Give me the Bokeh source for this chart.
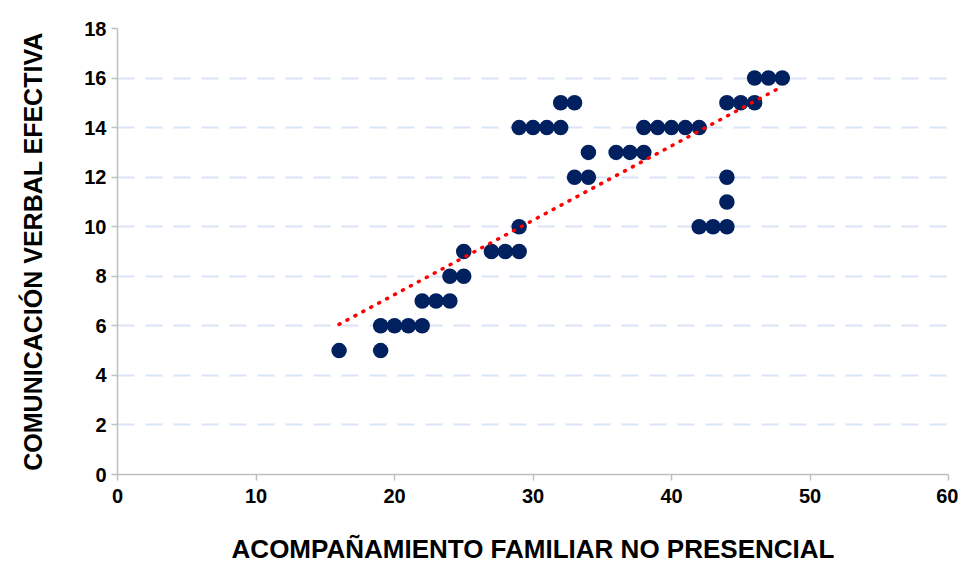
import numpy as np
from bokeh.plotting import figure
from bokeh.models import Range1d, FixedTicker
from bokeh.embed import file_html
from bokeh.resources import INLINE

acompanamiento = [16, 19, 19, 20, 21, 22, 22, 23, 24, 24, 25, 25, 27, 28, 29, 29,
                  29, 30, 31, 32, 32, 33, 33, 34, 34, 36, 37, 38, 38, 39, 40, 41, 42,
                  42, 43, 44, 44, 44, 44, 45, 46, 46, 47, 48]
comunicacion = [5, 5, 6, 6, 6, 6, 7, 7, 7, 8, 8, 9, 9, 9, 9, 10,
                14, 14, 14, 14, 15, 15, 12, 12, 13, 13, 13, 13, 14, 14, 14, 14, 14,
                10, 10, 10, 11, 12, 15, 15, 15, 16, 16, 16]
x_ticks = [0, 10, 20, 30, 40, 50, 60]
y_ticks = [0, 2, 4, 6, 8, 10, 12, 14, 16, 18]

p = figure(width=958, height=566, output_backend="svg", toolbar_location=None,
           x_range=Range1d(0, 60), y_range=Range1d(0, 18),
           min_border_left=117, min_border_right=10, min_border_top=28, min_border_bottom=91)
p.outline_line_color = None
p.background_fill_color = "white"

# axes
for ax in (p.xaxis[0], p.yaxis[0]):
    ax.axis_line_color = "#bfbfbf"
    ax.axis_line_width = 1.5
    ax.major_tick_line_color = "#bfbfbf"
    ax.major_tick_line_width = 1.5
    ax.major_tick_out = 6
    ax.major_tick_in = 0
    ax.minor_tick_line_color = None
    ax.major_label_text_font = "Liberation Sans"
    ax.major_label_text_font_style = "bold"
    ax.major_label_text_font_size = "20px"
    ax.major_label_text_color = "#000000"
    ax.axis_label_text_font = "Liberation Sans"
    ax.axis_label_text_font_style = "bold"
    ax.axis_label_text_color = "#000000"

p.xaxis.ticker = FixedTicker(ticks=x_ticks)
p.yaxis.ticker = FixedTicker(ticks=y_ticks)
p.xaxis.axis_label = "ACOMPAÑAMIENTO FAMILIAR NO PRESENCIAL"
p.yaxis.axis_label = "COMUNICACIÓN VERBAL EFECTIVA"
p.xaxis.axis_label_text_font_size = "26px"
p.yaxis.axis_label_text_font_size = "25px"
p.xaxis.major_label_standoff = 8
p.yaxis.major_label_standoff = 5
p.xaxis.axis_label_standoff = 28
p.yaxis.axis_label_standoff = 34

p.xgrid.grid_line_color = None
p.ygrid.grid_line_color = "#d9e4f7"
p.ygrid.grid_line_width = 2
p.ygrid.grid_line_dash = "17 11"

# trendline (least squares)
xs = np.array(acompanamiento, dtype=float)
ys = np.array(comunicacion, dtype=float)
m, b = np.polyfit(xs, ys, 1)
tx = [xs.min(), xs.max()]
ty = [m * t + b for t in tx]

p.scatter(acompanamiento, comunicacion, size=15.5, color="#002060", line_color=None)
p.line(tx, ty, line_color="#ff0000", line_width=3.5, line_dash="1 8", line_cap="round")

open("out.html", "w").write(file_html(p, INLINE))
